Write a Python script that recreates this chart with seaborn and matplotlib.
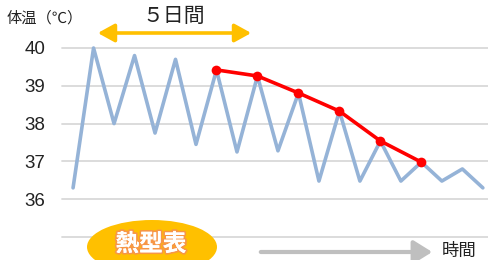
import matplotlib
matplotlib.use("Agg")
import matplotlib.pyplot as plt
import matplotlib.patheffects as pe
from matplotlib.patches import Ellipse, FancyArrowPatch
import seaborn as sns
import pandas as pd

sns.set_theme(style="white")
plt.rcParams['font.family'] = ['Noto Sans CJK JP', 'DejaVu Sans']

# Data
time_idx = list(range(21))
temps = [36.3, 40.0, 38.0, 39.8, 37.75, 39.7, 37.45, 39.42, 37.25, 39.26, 37.28,
         38.81, 36.48, 38.33, 36.48, 37.54, 36.48, 36.98, 36.48, 36.8, 36.3]
peak_idx = [7, 9, 11, 13, 15, 17]
peak_vals = [39.42, 39.26, 38.81, 38.33, 37.54, 36.98]
y_ticks = [36, 37, 38, 39, 40]
grid_levels = [35, 36, 37, 38, 39, 40]

df = pd.DataFrame({"t": time_idx, "temp": temps})
dp = pd.DataFrame({"t": peak_idx, "temp": peak_vals})

W, H = 489, 260
fig = plt.figure(figsize=(W / 100, H / 100), dpi=100)
ax = fig.add_axes([62 / W, (H - 237) / H, (W - 62) / W, (237 - 48) / H])

for g in grid_levels:
    ax.axhline(g, color="#D9D9D9", lw=1.3, zorder=0, clip_on=False)

sns.lineplot(data=df, x="t", y="temp", ax=ax, color="#95B3D7", lw=2.6,
             zorder=2, clip_on=False)
sns.lineplot(data=dp, x="t", y="temp", ax=ax, color="#FF0000", lw=2.6,
             marker="o", markersize=7, markeredgewidth=0, zorder=3, clip_on=False)

ax.set_xlim(-0.54, 20.3)
ax.set_ylim(35, 40)
ax.set_yticks(y_ticks)
ax.set_yticklabels([str(v) for v in y_ticks], fontsize=13.5, color="#222222",
                   family=['Liberation Sans Narrow', 'Liberation Sans', 'DejaVu Sans'])
ax.tick_params(axis='y', length=0, pad=12)
ax.set_xticks([])
ax.set_xlabel("")
ax.set_ylabel("")
for s in ax.spines.values():
    s.set_visible(False)

def fx(px):
    return px / W

def fy(py):
    return 1 - py / H

# Title label
fig.text(fx(7), fy(18), "体温（℃）", fontsize=11, va="center", ha="left", color="#222222")
fig.text(fx(174), fy(16), "５日間", fontsize=15, va="center", ha="center", color="#222222")

# Orange double arrow
fig.patches.append(FancyArrowPatch(
    (fx(95), fy(33)), (fx(254), fy(33)), transform=fig.transFigure,
    arrowstyle="<|-|>,head_length=4,head_width=2.2", color="#FFC000", lw=2.6,
    mutation_scale=2.5))

# Gray arrow
fig.patches.append(FancyArrowPatch(
    (fx(258), fy(252)), (fx(435), fy(252)), transform=fig.transFigure,
    arrowstyle="-|>,head_length=4.5,head_width=2.8", color="#BFBFBF", lw=3,
    mutation_scale=2.5))
fig.text(fx(442), fy(251), "時間", fontsize=12.5, va="center", ha="left", color="#222222")

# Orange ellipse with label
ell = Ellipse((fx(152), fy(247)), width=130 / W, height=54 / H,
              transform=fig.transFigure, facecolor="#FFC000", edgecolor="none", zorder=5)
fig.patches.append(ell)
t = fig.text(fx(151), fy(244), "熱型表", fontsize=17, fontweight="bold",
             va="center", ha="center", color="white", zorder=6)
t.set_path_effects([pe.withStroke(linewidth=2.5, foreground="#F79646"), pe.Normal()])

fig.savefig("out.png", dpi=100)
